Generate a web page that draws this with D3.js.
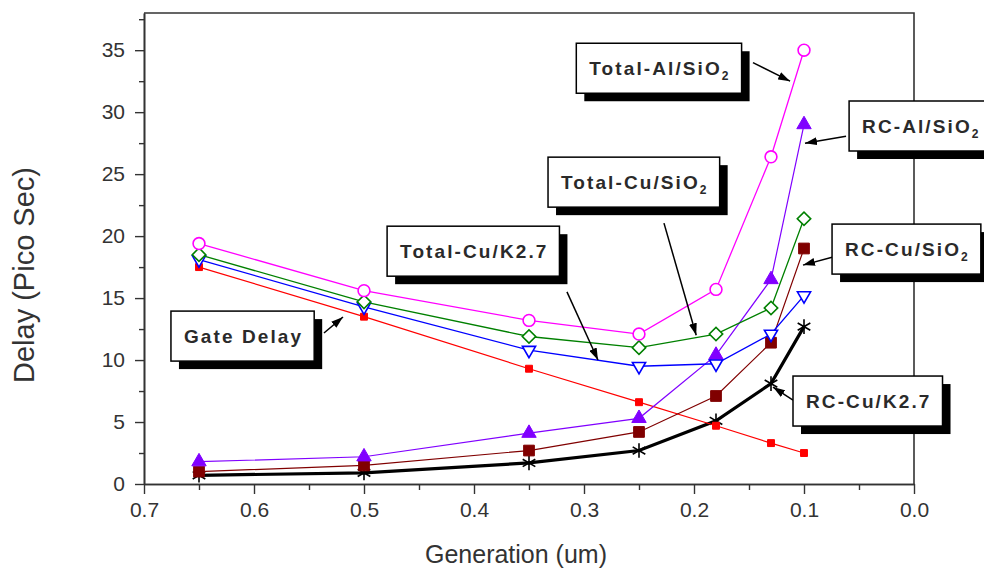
<!DOCTYPE html>
<html>
<head>
<meta charset="utf-8">
<script src="https://cdn.jsdelivr.net/npm/d3@7"></script>
<style>
  body { margin: 0; background: #fff; }
  svg { display: block; font-family: "Liberation Sans", Arial, sans-serif; }
</style>
</head>
<body>
<script>
// data
var generation = [0.65, 0.5, 0.35, 0.25, 0.18, 0.13, 0.10];
var totalAlSiO2 = [19.4, 15.6, 13.2, 12.1, 15.7, 26.4, 35.0];
var rcAlSiO2 = [1.8, 2.2, 4.1, 5.3, 10.4, 16.5, 29.0];
var totalCuSiO2 = [18.5, 14.7, 11.9, 11.0, 12.1, 14.2, 21.4];
var rcCuSiO2 = [1.0, 1.5, 2.7, 4.2, 7.1, 11.4, 19.0];
var totalCuK27 = [18.1, 14.3, 10.8, 9.5, 9.7, 12.1, 15.2];
var rcCuK27 = [0.7, 0.9, 1.7, 2.7, 5.1, 8.1, 12.7];
var gateDelay = [17.5, 13.5, 9.3, 6.6, 4.7, 3.3, 2.5];

var xTicks = [0.7, 0.6, 0.5, 0.4, 0.3, 0.2, 0.1, 0.0];
var xMinor = [0.65, 0.55, 0.45, 0.35, 0.25, 0.15, 0.05];
var yTicks = [0, 5, 10, 15, 20, 25, 30, 35];
var yMinor = [2.5, 7.5, 12.5, 17.5, 22.5, 27.5, 32.5, 37.5];

// callout labels: text, subscript, box corner (data units), arrow from -> to (data units)
var calloutText = ["Total-Al/SiO", "RC-Al/SiO", "Total-Cu/SiO", "Total-Cu/K2.7", "Gate Delay", "RC-Cu/SiO", "RC-Cu/K2.7"];
var calloutSub = ["2", "2", "2", "", "", "2", ""];
var calloutBox = [[0.307, 35.56], [0.059, 30.9], [0.3327, 26.37], [0.479, 20.8], [0.6755, 13.95], [0.0745, 20.97], [0.110, 8.71]];
var calloutFrom = [[0.1464, 34.0], [0.0618, 28.06], [0.2273, 21.05], [0.3155, 15.5], [0.5364, 12.18], [0.0745, 18.3], [0.110, 6.77]];
var calloutTo = [[0.1127, 32.5], [0.0991, 27.5], [0.198, 12.0], [0.2873, 10.0], [0.5191, 13.47], [0.1009, 17.66], [0.1282, 7.82]];

var width = 984;
var height = 569;
var plotLeft = 144, plotRight = 914, plotTop = 13, plotBottom = 484;

var svg = d3.select("body").append("svg")
  .attr("width", width)
  .attr("height", height);

var x = d3.scaleLinear().domain([0.7, 0]).range([plotLeft, plotRight]);
var y = d3.scaleLinear().domain([0, 38]).range([plotBottom, plotTop]);

var axisColor = "#333";

// frame (top and right)
svg.append("path")
  .attr("d", "M" + plotLeft + "," + plotTop + "H" + plotRight + "V" + plotBottom)
  .attr("fill", "none")
  .attr("stroke", axisColor)
  .attr("stroke-width", 1.6);

// axes
svg.append("g")
  .attr("transform", "translate(0," + plotBottom + ")")
  .call(d3.axisBottom(x).tickValues(xTicks).tickFormat(d3.format(".1f")).tickSize(10).tickSizeOuter(0).tickPadding(8));
svg.append("g")
  .attr("transform", "translate(0," + plotBottom + ")")
  .call(d3.axisBottom(x).tickValues(xMinor).tickFormat("").tickSize(6).tickSizeOuter(0));

svg.append("g")
  .attr("transform", "translate(" + plotLeft + ",0)")
  .call(d3.axisLeft(y).tickValues(yTicks).tickSize(9).tickSizeOuter(0).tickPadding(10));
svg.append("g")
  .attr("transform", "translate(" + plotLeft + ",0)")
  .call(d3.axisLeft(y).tickValues(yMinor).tickFormat("").tickSize(5).tickSizeOuter(0));

svg.selectAll(".domain").attr("stroke", axisColor).attr("stroke-width", 1.6);
svg.selectAll(".tick line").attr("stroke", axisColor).attr("stroke-width", 1.4);
svg.selectAll(".tick text")
  .attr("fill", "#333")
  .style("font-size", "21px")
  .style("font-family", "Liberation Sans, Arial, sans-serif");

// axis titles
svg.append("text")
  .attr("x", 516)
  .attr("y", 563)
  .attr("text-anchor", "middle")
  .attr("fill", "#333")
  .style("font-size", "25px")
  .text("Generation (um)");

svg.append("text")
  .attr("transform", "translate(34,275) rotate(-90)")
  .attr("text-anchor", "middle")
  .attr("fill", "#333")
  .style("font-size", "29px")
  .text("Delay (Pico Sec)");

// series
var series = [
  { values: rcCuK27, color: "#000", width: 3.2, marker: "star" },
  { values: gateDelay, color: "#ff0000", width: 1.2, marker: "smallsquare" },
  { values: rcCuSiO2, color: "#800000", width: 1.2, marker: "square" },
  { values: rcAlSiO2, color: "#8000ff", width: 1.2, marker: "triangle" },
  { values: totalCuK27, color: "#0000ff", width: 1.3, marker: "triangledown" },
  { values: totalCuSiO2, color: "#008000", width: 1.3, marker: "diamond" },
  { values: totalAlSiO2, color: "#ff00ff", width: 1.3, marker: "circle" }
];

var line = d3.line()
  .x(d => x(d[0]))
  .y(d => y(d[1]));

series.forEach(function(s) {
  var pts = generation.map((g, i) => [g, s.values[i]]);
  var g = svg.append("g");
  g.append("path")
    .attr("d", line(pts))
    .attr("fill", "none")
    .attr("stroke", s.color)
    .attr("stroke-width", s.width);

  var sym, fill, stroke, rot = 0, sw = 1.6;
  if (s.marker == "circle") { sym = d3.symbol(d3.symbolCircle, 110); fill = "#fff"; stroke = s.color; }
  if (s.marker == "diamond") { sym = d3.symbol(d3.symbolSquare, 90); fill = "#fff"; stroke = s.color; rot = 45; }
  if (s.marker == "triangledown") { sym = d3.symbol(d3.symbolTriangle, 75); fill = "#fff"; stroke = s.color; rot = 180; }
  if (s.marker == "triangle") { sym = d3.symbol(d3.symbolTriangle, 90); fill = s.color; stroke = s.color; sw = 1; }
  if (s.marker == "square") { sym = d3.symbol(d3.symbolSquare, 115); fill = s.color; stroke = s.color; sw = 1; }
  if (s.marker == "smallsquare") { sym = d3.symbol(d3.symbolSquare, 48); fill = s.color; stroke = s.color; sw = 1; }
  if (s.marker == "star") { sym = d3.symbol(d3.symbolAsterisk, 150); fill = "none"; stroke = s.color; sw = 1.6; }

  g.selectAll("path.pt")
    .data(pts)
    .enter()
    .append("path")
      .attr("class", "pt")
      .attr("d", sym)
      .attr("transform", d => "translate(" + x(d[0]) + "," + y(d[1]) + ") rotate(" + rot + ")")
      .attr("fill", fill)
      .attr("stroke", stroke)
      .attr("stroke-width", sw);
});

// arrowhead
svg.append("defs").append("marker")
  .attr("id", "arrow")
  .attr("viewBox", "0 0 12 8")
  .attr("refX", 12)
  .attr("refY", 4)
  .attr("markerWidth", 12)
  .attr("markerHeight", 8)
  .attr("markerUnits", "userSpaceOnUse")
  .attr("orient", "auto")
  .append("path")
    .attr("d", "M0,0L12,4L0,8Z")
    .attr("fill", "#000");

// callouts
calloutText.forEach(function(t, i) {
  var g = svg.append("g");
  var bx = x(calloutBox[i][0]);
  var by = y(calloutBox[i][1]);

  g.append("line")
    .attr("x1", x(calloutFrom[i][0]))
    .attr("y1", y(calloutFrom[i][1]))
    .attr("x2", x(calloutTo[i][0]))
    .attr("y2", y(calloutTo[i][1]))
    .attr("stroke", "#000")
    .attr("stroke-width", 1.5)
    .attr("marker-end", "url(#arrow)");

  var shadow = g.append("rect").attr("fill", "#000");
  var box = g.append("rect").attr("fill", "#fff").attr("stroke", "#000").attr("stroke-width", 1.5);

  var txt = g.append("text")
    .attr("x", bx + 13)
    .attr("y", by + 32)
    .attr("fill", "#2a2a2a")
    .style("font-size", "19px")
    .style("font-weight", "bold")
    .style("letter-spacing", "2.1px");
  txt.append("tspan").text(t);
  if (calloutSub[i]) {
    txt.append("tspan")
      .attr("dy", 5)
      .style("font-size", "12px")
      .text(calloutSub[i]);
  }
  var w = txt.node().getComputedTextLength() + 24;
  var h = 50;
  shadow.attr("x", bx + 8).attr("y", by + 8).attr("width", w).attr("height", h);
  box.attr("x", bx).attr("y", by).attr("width", w).attr("height", h);
});
</script>
</body>
</html>
